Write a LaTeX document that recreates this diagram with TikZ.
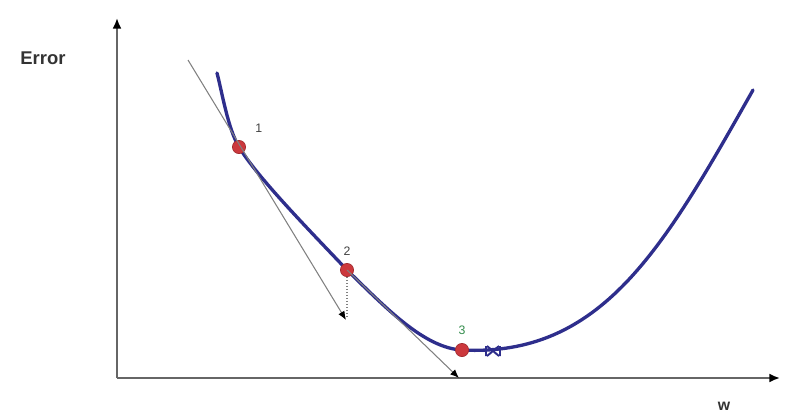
\documentclass[tikz,border=0pt]{standalone}
\usepackage{fontspec}
\setmainfont{Liberation Sans}
\usepackage{tikz}
\usetikzlibrary{positioning,arrows.meta}
\definecolor{curveblue}{rgb}{0.18, 0.18, 0.55}
\definecolor{dotred}{rgb}{0.80, 0.22, 0.24}
\definecolor{labgreen}{rgb}{0.20, 0.55, 0.30}
\definecolor{axisgray}{rgb}{0.40, 0.40, 0.40}

\begin{document}
\begin{tikzpicture}[
    x=0.02cm, y=-0.02cm,
    axis/.style={draw=axisgray, line width=1.1pt, -{Latex[length=6pt,width=5pt,color=black]}},
    tangent/.style={draw=gray, line width=0.6pt, -{Latex[length=5pt,width=4pt,color=black]}},
    errcurve/.style={draw=curveblue, line width=1.9pt, line cap=round},
    wpoint/.style={circle, draw=dotred!80!black, fill=dotred, inner sep=0pt, minimum size=7.5pt},
    numlab/.style={font=\fontsize{7}{8}\selectfont, text=black!75},
    axlab/.style={font=\fontsize{10.5}{12}\bfseries, text=black!80}
]
\useasboundingbox (0,0) rectangle (790,417);
% --- Axes ---
\coordinate (O) at (117,378);
\coordinate (Ytop) at (117,18);
\coordinate (Xend) at (780,378);
\draw[axis] (O) -- (Ytop);
\draw[axis] (O) -- (Xend);
\node[axlab] (err) at (43,58) {Error};
\node[axlab, font=\fontsize{9}{10}\bfseries] (w) at (724,406) {w};

% --- Error curve ---
\coordinate (Cstart) at (217,73);
\coordinate (Cend) at (753,90);
\draw[errcurve] (Cstart) .. controls (222,92) and (228,129) .. (239,147)
    .. controls (257,177) and (311,232) .. (347,270)
    .. controls (385,307) and (424,348) .. (462,350)
    .. controls (602,357) and (663,249) .. (Cend);

% --- Points ---
\node[wpoint, label={[numlab, xshift=3pt, yshift=2pt]above right:1}] (P1) at (239,147) {};
\node[wpoint, label={[numlab, yshift=1pt]above:2}] (P2) at (347,270) {};
\node[wpoint, label={[numlab, text=labgreen, yshift=1pt]above:3}] (P3) at (462,350) {};

% --- Tangents ---
\coordinate (T1a) at (188,60);
\coordinate (T1b) at (346,320);
\coordinate (T2b) at (459,378);
\coordinate (D2) at (347,318);
\draw[tangent] (T1a) -- (T1b);
\draw[tangent] (P2.center) -- (T2b);
\draw[gray, densely dotted, line width=0.7pt] (P2) -- (D2);

% --- Minimum marker ---
\coordinate (Wmin) at (493,351);
\draw[curveblue, line width=1.1pt] ([shift={(-6,-5)}]Wmin) -- ([shift={(6,5)}]Wmin)
    ([shift={(-6,5)}]Wmin) -- ([shift={(6,-5)}]Wmin)
    ([shift={(-7,-5)}]Wmin) -- ([shift={(-7,5)}]Wmin)
    ([shift={(7,-5)}]Wmin) -- ([shift={(7,5)}]Wmin);
\end{tikzpicture}
\end{document}
